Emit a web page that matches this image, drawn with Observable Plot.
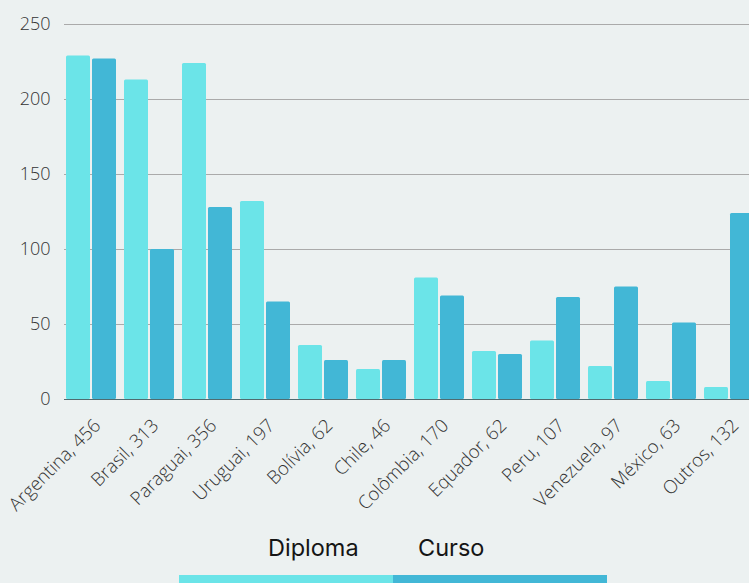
<!DOCTYPE html>
<html>
<head>
<meta charset="utf-8">
<script src="https://cdn.jsdelivr.net/npm/d3@7"></script>
<script src="https://cdn.jsdelivr.net/npm/@observablehq/plot@0.6"></script>
<style>
  html, body { margin: 0; padding: 0; background: #ecf1f1; overflow: hidden; }
  #wrap { position: relative; width: 749px; height: 583px; overflow: hidden; }
  #chart svg { max-width: none !important; }
  #legend { position: absolute; left: 0; top: 0; width: 749px; height: 583px; pointer-events: none; font-family: Inter, sans-serif; }
  .lab { position: absolute; top: 534px; font-size: 23.5px; font-weight: 400; line-height: 28px; color: #151515; }
  .sw { position: absolute; top: 575px; height: 10px; width: 214px; }
</style>
</head>
<body>
<div id="wrap">
  <div id="chart"></div>
  <div id="legend">
    <div class="lab" style="left:268px">Diploma</div>
    <div class="lab" style="left:418px">Curso</div>
    <div class="sw" style="left:179px;background:#6be4e8"></div>
    <div class="sw" style="left:393px;background:#42b7d6"></div>
  </div>
</div>
<script>
const countries = ["Argentina","Brasil","Paraguai","Uruguai","Bolívia","Chile","Colômbia","Equador","Peru","Venezuela","México","Outros"];
const totals    = [456, 313, 356, 197, 62, 46, 170, 62, 107, 97, 63, 132];
const diploma   = [229, 213, 224, 132, 36, 20, 81, 32, 39, 22, 12, 8];
const curso     = [227, 100, 128, 65, 26, 26, 69, 30, 68, 75, 51, 124];
const yTicks    = [0, 50, 100, 150, 200, 250];

const rows = countries.map((c, i) => ({country: c, total: totals[i], diploma: diploma[i], curso: curso[i]}));
const labelOf = new Map(countries.map((c, i) => [c, `${c}, ${totals[i]}`]));

const font = "'Open Sans', sans-serif";
const chart = Plot.plot({
  width: 759,
  height: 583,
  marginLeft: 61,
  marginRight: 0,
  marginTop: 24,
  marginBottom: 184,
  style: {background: "#ecf1f1", fontFamily: font, overflow: "visible", maxWidth: "none"},
  x: {domain: countries, paddingInner: 0.13, paddingOuter: 0.052, label: null},
  y: {domain: [0, 250], label: null},
  marks: [
    Plot.ruleY(yTicks.filter(d => d > 0), {stroke: "#aaaaaa", strokeWidth: 1, insetLeft: 3}),
    Plot.barY(rows, {x: "country", y: "diploma", fill: "#6be4e8", insetRight: 26, rx: 1.5}),
    Plot.barY(rows, {x: "country", y: "curso", fill: "#42b7d6", insetLeft: 26, rx: 1.5}),
    Plot.ruleY([0], {stroke: "#4f6b70", strokeWidth: 1.2, insetLeft: 3}),
    Plot.axisY({ticks: yTicks, tickSize: 0, tickPadding: 11, fontSize: 18, fill: "#333", fontWeight: 300, label: null}),
    Plot.axisX({tickSize: 0, tickPadding: 6, tickRotate: -45, fontSize: 18.5, fill: "#333", fontWeight: 300, dx: 6, dy: 17, tickFormat: d => labelOf.get(d), label: null})
  ]
});
document.getElementById("chart").appendChild(chart);
</script>
</body>
</html>
